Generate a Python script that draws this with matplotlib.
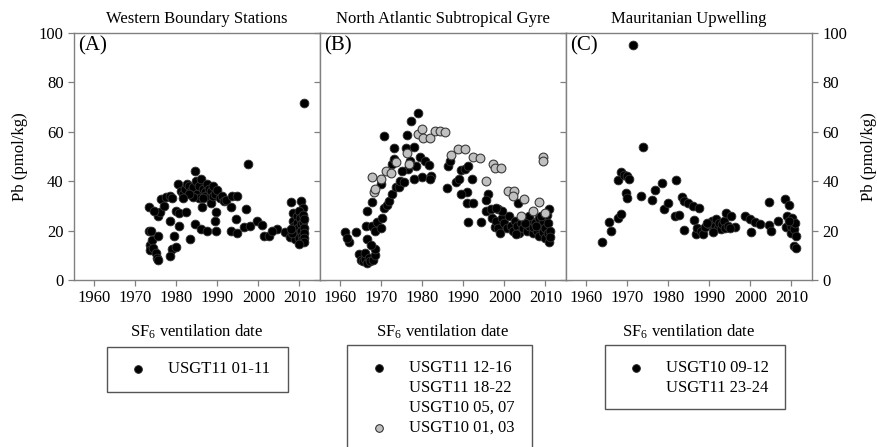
import matplotlib
matplotlib.use("Agg")
import matplotlib.pyplot as plt
from matplotlib.patches import Rectangle
from matplotlib.lines import Line2D

plt.rcParams["font.family"] = ["Liberation Serif", "DejaVu Serif"]
plt.rcParams["mathtext.fontset"] = "custom"
plt.rcParams["mathtext.rm"] = "Liberation Serif"
plt.rcParams["mathtext.default"] = "regular"

# ---- data (year, Pb pmol/kg) ----
a_year = [2011.0, 1997.4, 1973.3, 1973.3, 1973.6, 1973.5, 1974.0, 1974.2, 1975.0, 1975.2,
          1975.5, 1975.5, 1976.0, 1975.5, 1973.9, 1974.6, 1976.3, 1977.5, 1978.4, 1979.0,
          1978.5, 1979.0, 1978.5, 1979.5, 1980.0, 1980.5, 1980.3, 1979.8, 1980.5, 1981.0,
          1981.5, 1982.4, 1983.2, 1982.0, 1982.5, 1983.0, 1983.5, 1984.0, 1984.4, 1984.4,
          1984.8, 1985.0, 1985.5, 1985.5, 1986.0, 1986.0, 1986.3, 1986.5, 1987.0, 1987.0,
          1987.5, 1987.5, 1988.0, 1988.0, 1988.5, 1988.5, 1989.0, 1989.0, 1989.5, 1989.6,
          1989.6, 1989.5, 1990.0, 1990.5, 1991.0, 1991.5, 1992.0, 1993.6, 1994.8, 1993.2,
          1994.5, 1993.2, 1994.8, 1996.9, 1996.5, 1998.0, 1999.6, 2000.8, 2001.3, 2002.5,
          2004.5, 2003.3, 2006.5, 2007.7, 2008.0, 2010.4, 2010.8, 2008.3, 2008.5, 2008.7,
          2008.5, 2008.8, 2009.0, 2009.3, 2009.5, 2009.6, 2009.8, 2009.8, 2010.0, 2010.2,
          2010.3, 2010.4, 2010.5, 2010.6, 2010.8, 2010.9, 2011.0, 2011.0, 2011.0, 2011.2,
          2011.2, 2010.0, 2008.2, 2007.9, 1984.0, 1986.5, 1983.0, 1981.5, 1977.0]
a_pb = [71.5, 47.0, 29.4, 20.0, 14.0, 12.0, 16.0, 13.0, 11.0, 9.0,
        8.0, 26.0, 27.5, 18.0, 19.9, 28.0, 32.7, 33.5, 34.0, 33.0,
        24.0, 12.5, 9.7, 17.7, 28.0, 27.0, 38.7, 13.5, 22.0, 36.0,
        35.0, 27.4, 16.5, 37.0, 39.0, 38.0, 36.0, 37.5, 44.0, 22.7,
        40.0, 35.0, 33.0, 38.0, 40.7, 20.7, 29.4, 37.0, 35.5, 34.0,
        19.9, 39.0, 37.0, 33.0, 36.0, 31.0, 38.0, 34.0, 35.0, 19.9,
        27.4, 24.0, 36.5, 33.0, 34.0, 32.0, 32.5, 34.0, 34.0, 29.4,
        24.6, 20.0, 19.0, 28.6, 21.5, 22.0, 24.0, 22.4, 17.9, 17.9,
        20.5, 19.7, 19.3, 17.3, 31.4, 32.0, 29.0, 27.0, 24.0, 22.0,
        20.0, 18.0, 16.5, 26.0, 23.0, 21.0, 19.0, 17.0, 28.0, 25.0,
        22.5, 20.0, 18.0, 16.0, 26.5, 23.5, 21.0, 19.0, 17.0, 15.5,
        24.5, 14.5, 19.0, 20.5, 33.5, 33.0, 35.0, 33.0, 30.0]

b_year = [1961.0, 1962.0, 1961.5, 1963.8, 1964.6, 1965.0, 1965.5, 1966.0, 1966.5, 1966.0,
          1966.5, 1967.0, 1967.2, 1968.0, 1968.3, 1968.5, 1967.5, 1966.2, 1966.5, 1967.7,
          1967.8, 1968.5, 1969.0, 1970.0, 1970.6, 1970.0, 1970.2, 1970.7, 1971.3, 1971.8,
          1972.6, 1973.0, 1973.0, 1972.5, 1973.5, 1974.3, 1974.5, 1975.5, 1976.0, 1976.2,
          1977.1, 1977.9, 1979.0, 1979.5, 1980.7, 1981.5, 1980.0, 1982.0, 1977.9, 1976.5,
          1977.0, 1978.5, 1975.0, 1981.9, 1986.0, 1986.3, 1986.8, 1988.2, 1989.0, 1989.5,
          1990.3, 1991.2, 1992.0, 1990.8, 1989.5, 1990.8, 1992.4, 1991.2, 1996.0, 1995.5,
          1995.5, 1994.3, 1996.8, 1998.5, 1997.6, 1997.0, 1998.0, 1998.5, 1999.0, 1999.5,
          2000.0, 2000.5, 2001.0, 2001.5, 2002.0, 2002.5, 2003.0, 2003.3, 2003.5, 2004.0,
          2004.5, 2005.0, 2005.5, 2006.0, 2006.5, 2007.0, 2007.0, 2007.5, 2008.0, 2008.3,
          2008.5, 2009.0, 2009.3, 2009.5, 2009.8, 2010.0, 2010.3, 2010.5, 2010.6, 2010.9,
          2010.9, 2011.0, 2011.0, 1999.5, 1998.0, 2006.0, 2007.8, 2009.0, 2005.0, 2002.8]
b_pb = [19.3, 15.5, 17.0, 19.3, 10.5, 8.0, 7.5, 8.5, 7.0, 11.0,
        16.5, 9.0, 7.5, 8.0, 10.0, 12.6, 14.0, 21.9, 28.0, 22.0,
        31.4, 20.0, 23.5, 38.7, 58.2, 21.0, 25.0, 29.0, 30.5, 32.0,
        46.8, 53.6, 49.0, 35.0, 37.5, 37.5, 40.0, 39.5, 53.6, 58.9,
        64.2, 53.7, 67.6, 50.0, 48.0, 46.5, 41.5, 42.0, 41.0, 45.0,
        48.0, 46.0, 44.0, 41.0, 37.4, 46.0, 48.0, 39.5, 40.7, 44.5,
        44.8, 46.0, 41.0, 35.5, 35.0, 31.0, 31.0, 23.4, 34.7, 32.5,
        28.0, 23.4, 28.6, 28.6, 21.4, 25.0, 24.0, 21.0, 19.0, 25.0,
        23.0, 21.0, 26.0, 22.0, 20.0, 24.0, 22.0, 31.0, 19.0, 23.0,
        21.0, 25.0, 20.0, 22.0, 24.0, 19.0, 21.5, 23.0, 20.0, 25.0,
        18.0, 22.0, 19.5, 24.0, 17.0, 21.0, 26.5, 19.0, 23.0, 28.6,
        15.3, 20.0, 17.5, 28.0, 29.0, 26.0, 22.0, 26.0, 23.0, 18.5]

b2_year = [1968.2, 1967.8, 1968.5, 1970.0, 1971.0, 1972.2, 1973.5, 1976.2, 1976.6, 1979.0,
           1979.8, 1980.2, 1981.9, 1983.1, 1984.3, 1985.5, 1987.0, 1988.7, 1990.3, 1992.4,
           1994.0, 1995.5, 1997.2, 1997.6, 1999.1, 2000.8, 2002.4, 2002.0, 2004.8, 2004.0,
           2008.5, 2009.3, 2009.3, 2007.0, 2010.0]
b2_pb = [35.5, 41.5, 37.0, 41.0, 44.0, 43.5, 47.6, 51.5, 47.0, 59.0,
         61.0, 57.5, 57.5, 60.5, 60.5, 60.0, 50.8, 53.2, 53.2, 50.0,
         49.3, 40.0, 46.8, 45.5, 45.5, 36.0, 36.0, 34.0, 32.7, 26.0,
         31.4, 49.6, 48.3, 28.0, 27.0]

c_year = [1971.4, 1973.8, 1963.9, 1965.6, 1966.0, 1967.6, 1968.5, 1967.8, 1968.5, 1969.2,
          1970.0, 1970.4, 1969.6, 1970.0, 1973.4, 1975.9, 1976.7, 1978.4, 1978.8, 1980.0,
          1981.9, 1981.7, 1982.5, 1983.2, 1983.9, 1984.7, 1986.0, 1987.5, 1986.2, 1983.9,
          1986.6, 1987.0, 1988.0, 1988.5, 1989.0, 1990.0, 1990.5, 1991.0, 1991.3, 1991.7,
          1992.0, 1992.3, 1992.7, 1993.0, 1993.5, 1993.8, 1994.1, 1995.3, 1994.5, 1996.2,
          1998.6, 1999.8, 2001.0, 2002.2, 2000.2, 2004.4, 2004.6, 2005.0, 2006.6, 2008.5,
          2009.3, 2009.0, 2008.7, 2009.9, 2010.0, 2010.2, 2010.5, 2010.8, 2010.5, 2011.0,
          2011.0, 2009.5, 1989.5, 1990.8, 1995.0]
c_pb = [95.2, 53.8, 15.4, 23.6, 20.0, 25.3, 26.6, 40.3, 43.7, 42.5,
        42.3, 40.7, 35.4, 33.0, 34.0, 32.3, 36.3, 39.4, 28.9, 31.2,
        40.3, 26.0, 26.2, 33.5, 32.0, 31.0, 30.0, 29.0, 24.2, 20.2,
        18.7, 21.0, 20.0, 18.5, 21.5, 22.5, 24.0, 20.5, 22.0, 24.5,
        21.0, 23.0, 20.5, 22.5, 24.0, 21.0, 27.3, 26.0, 22.0, 21.5,
        26.0, 24.5, 23.5, 22.5, 19.5, 31.6, 22.4, 19.9, 24.0, 32.7,
        30.4, 26.0, 21.4, 19.0, 22.0, 25.0, 20.5, 23.0, 13.7, 12.9,
        18.0, 24.0, 23.0, 19.5, 21.0]

titles = ["Western Boundary Stations", "North Atlantic Subtropical Gyre", "Mauritanian Upwelling"]
panel_tags = ["(A)", "(B)", "(C)"]
x_ticks = [1960, 1970, 1980, 1990, 2000, 2010]
y_ticks = [0, 20, 40, 60, 80, 100]

W, H = 877, 447
fig = plt.figure(figsize=(W / 100, H / 100), dpi=100)

SPINE = "#808080"
lefts = [74, 320, 566]
axes = []
for i, lx in enumerate(lefts):
    ax = fig.add_axes([lx / W, (H - 280) / H, 246 / W, 247 / H])
    ax.set_xlim(1955, 2015)
    ax.set_ylim(0, 100)
    ax.set_xticks(x_ticks)
    ax.set_yticks(y_ticks)
    ax.tick_params(direction="out", length=4, width=0.9, color=SPINE,
                   labelsize=12, left=True, right=True, labelleft=(i == 0),
                   labelright=(i == 2))
    for sp in ax.spines.values():
        sp.set_color(SPINE)
        sp.set_linewidth(1.0)
    ax.set_title(titles[i], fontsize=12, pad=7)
    ax.text(0.015, 0.985, panel_tags[i], transform=ax.transAxes, fontsize=15,
            va="top", ha="left")
    ax.set_xlabel("SF$_6$ ventilation date", fontsize=12, labelpad=12)
    axes.append(ax)

axes[0].set_ylabel("Pb (pmol/kg)", fontsize=12, labelpad=8)
axes[2].yaxis.set_label_position("right")
axes[2].set_ylabel("Pb (pmol/kg)", fontsize=12, rotation=90, labelpad=10)

kw = dict(s=40, c="black", edgecolors="#333333", linewidths=0.6, zorder=3, clip_on=False)
axes[0].scatter(a_year, a_pb, **kw)
axes[1].scatter(b_year, b_pb, **kw)
axes[1].scatter(b2_year, b2_pb, s=40, c="#c0c0c0", edgecolors="#3a3a3a",
                linewidths=0.8, zorder=4)
axes[2].scatter(c_year, c_pb, **kw)


def fx(x):
    return x / W


def fy(y):
    return 1 - y / H


def legend_box(x0, y0, x1, y1, rows, mx, tx):
    fig.add_artist(Rectangle((fx(x0), fy(y1)), fx(x1) - fx(x0), fy(y0) - fy(y1),
                             transform=fig.transFigure, fill=False,
                             edgecolor="#555555", linewidth=1.0))
    for ry, label, face in rows:
        if face is not None:
            fig.add_artist(Line2D([fx(mx)], [fy(ry)], marker="o", markersize=5.5,
                                  markerfacecolor=face, markeredgecolor="#222222",
                                  markeredgewidth=0.7, linestyle="none",
                                  transform=fig.transFigure))
        fig.text(fx(tx), fy(ry), label, fontsize=12, va="center", ha="left")


legend_box(107, 347, 288, 392, [(369, "USGT11 01-11", "black")], 138, 168)
legend_box(347, 345, 532, 470,
           [(368, "USGT11 12-16", "black"), (388, "USGT11 18-22", None),
            (408, "USGT10 05, 07", None), (428, "USGT10 01, 03", "#c0c0c0")], 379, 409)
legend_box(605, 345, 785, 409,
           [(368, "USGT10 09-12", "black"), (388, "USGT11 23-24", None)], 636, 666)

fig.savefig("out.png", dpi=100)
